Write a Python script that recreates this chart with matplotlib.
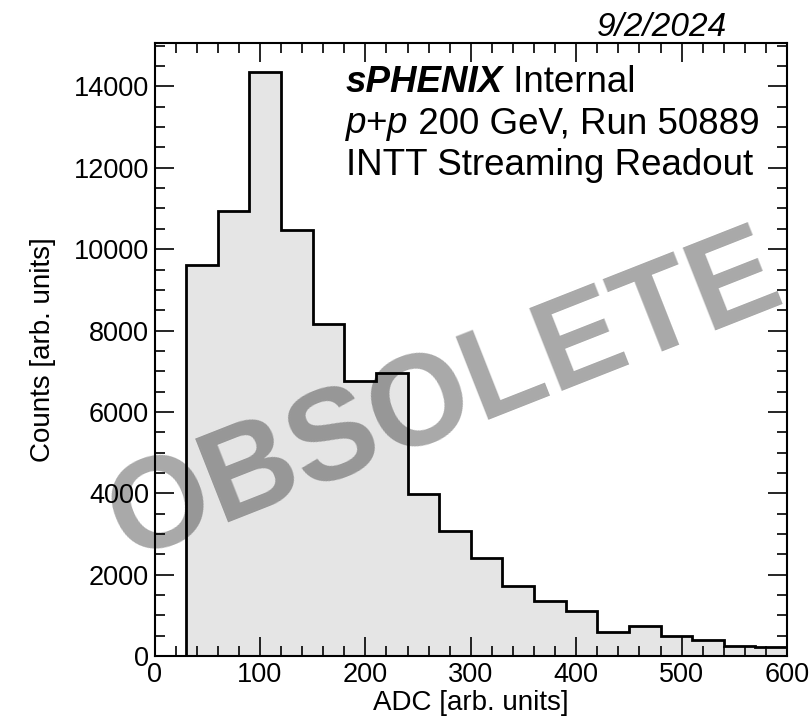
import numpy as np
import matplotlib
matplotlib.use("Agg")
import matplotlib.pyplot as plt
from matplotlib.ticker import MultipleLocator

plt.rcParams['font.family'] = ['Liberation Sans', 'DejaVu Sans']

# ADC spectrum, 30-count bins from 0 to 600
bin_edges = np.arange(0, 601, 30)
counts = [0, 9600, 10930, 14350, 10460, 8160, 6750, 6955, 3990, 3075,
          2405, 1720, 1360, 1095, 595, 740, 495, 395, 255, 225]

W, H = 809, 721
fig = plt.figure(figsize=(W / 100, H / 100), dpi=100)
ax = fig.add_axes([154.5 / W, 1 - 656 / H, (787 - 154.5) / W, (656 - 43) / H])

# filled histogram plus black outline
ax.stairs(counts, bin_edges, fill=True, color='#e5e5e5', zorder=1)
ax.stairs(counts, bin_edges, color='black', lw=2.0, zorder=2)

ax.set_xlim(0, 600)
ax.set_ylim(0, 1.05 * max(counts))

ax.xaxis.set_major_locator(MultipleLocator(100))
ax.xaxis.set_minor_locator(MultipleLocator(20))
ax.yaxis.set_major_locator(MultipleLocator(2000))
ax.yaxis.set_minor_locator(MultipleLocator(500))

ax.tick_params(which='both', direction='in', top=True, right=True, width=1.2, labelsize=19.5)
ax.tick_params(which='major', length=14)
ax.tick_params(which='minor', length=7)
ax.tick_params(axis='x', pad=4)
ax.tick_params(axis='y', pad=4)
for sp in ax.spines.values():
    sp.set_linewidth(1.5)

ax.set_xlabel('ADC [arb. units]', fontsize=20, labelpad=2)
ax.set_ylabel('Counts [arb. units]', fontsize=20, labelpad=13)

# label block in the upper right
renderer = fig.canvas.get_renderer()
fs = 26.5
x0 = 346 / W


def two_part(y_px, first, first_kw, rest):
    t = fig.text(x0, 1 - y_px / H, first, fontsize=fs, va='baseline', **first_kw)
    bb = t.get_window_extent(renderer)
    fig.text(bb.x1 / W, 1 - y_px / H, rest, fontsize=fs, va='baseline')


two_part(92, 'sPHENIX', dict(weight='bold', style='italic'), ' Internal')
two_part(133, 'p+p', dict(style='italic'), ' 200 GeV, Run 50889')
fig.text(x0, 1 - 175 / H, 'INTT Streaming Readout', fontsize=fs, va='baseline')

# date above the frame
fig.text(727 / W, 1 - 36 / H, '9/2/2024', fontsize=24, style='italic',
         ha='right', va='baseline')

# watermark
fig.text(458 / W, 1 - 430 / H, 'OBSOLETE', fontsize=93, weight='bold',
         color='black', alpha=0.34, rotation=21.5, rotation_mode='anchor',
         ha='center', va='baseline', zorder=10)

fig.savefig('out.png', dpi=100)
